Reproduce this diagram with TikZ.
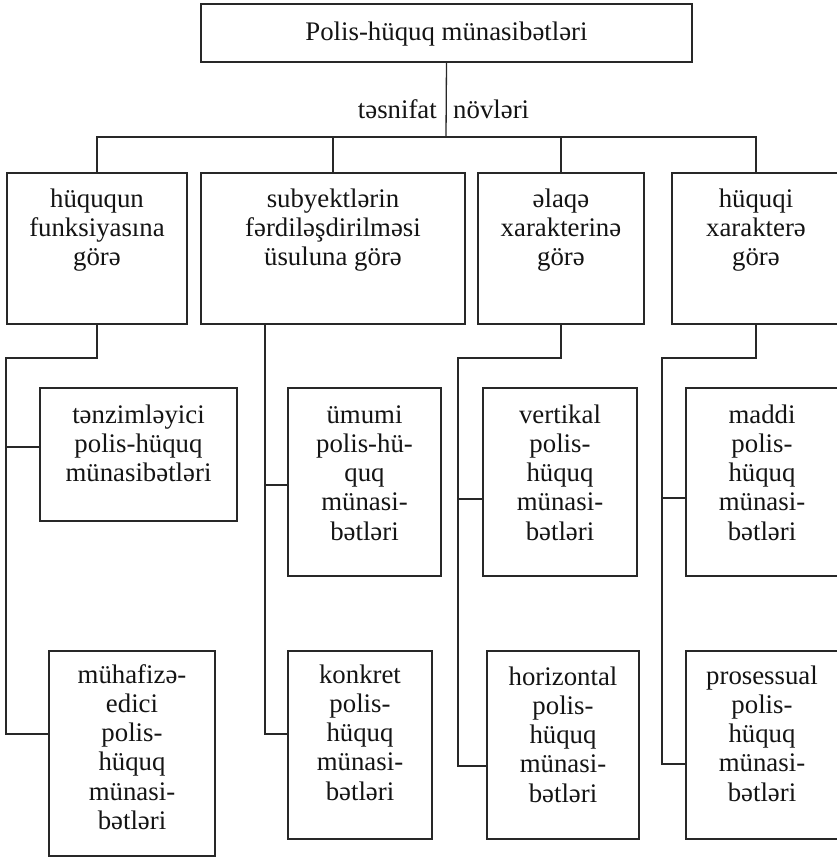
\documentclass[tikz,border=0pt]{standalone}
\usepackage{fontspec}
\setmainfont{Liberation Serif}
\definecolor{ln}{RGB}{40,40,40}
\definecolor{tx}{RGB}{20,20,20}
\newcommand{\bxt}[4]{\parbox[t][#2pt][t]{#1pt}{\centering\rule{0pt}{#3pt}#4}}
\begin{document}
\begin{tikzpicture}[x=1pt,y=-1pt,
  box/.style={draw=ln, line width=1.3pt, inner sep=0pt, outer sep=0pt, anchor=north west, text=tx,
    font=\fontsize{26.8pt}{29.3pt}\selectfont},
  lab/.style={inner sep=0pt, text=tx, font=\fontsize{26.8pt}{29.3pt}\selectfont},
  con/.style={draw=ln, line width=1.3pt}]
\useasboundingbox (0,0) rectangle (837,857);
\fill[white] (0,0) rectangle (837,857);
% top
\node[box] (top) at (201,4) {\bxt{491}{58}{36}{Polis-hüquq münasibətləri}};
% categories
\node[box] (c1) at (7,173) {\bxt{180}{151}{34}{hüququn\\funksiyasına\\görə}};
\node[box] (c2) at (201,173) {\bxt{264}{151}{34}{subyektlərin\\fərdiləşdirilməsi\\üsuluna görə}};
\node[box] (c3) at (478,173) {\bxt{166}{151}{34}{əlaqə\\xarakterinə\\görə}};
\node[box] (c4) at (672,173) {\bxt{168}{151}{34}{hüquqi\\xarakterə\\görə}\hspace*{30pt}};
% sub-boxes
\node[box] (r1a) at (40,388) {\bxt{197}{133}{35}{tənzimləyici\\polis-hüquq\\münasibətləri}};
\node[box] (r1b) at (49,651) {\bxt{166}{205}{32}{mühafizə-\\edici\\polis-\\hüquq\\münasi-\\bətləri}};
\node[box] (r2a) at (288,388) {\bxt{153}{188}{35}{ümumi\\polis-hü-\\quq\\münasi-\\bətləri}};
\node[box] (r2b) at (288,651) {\bxt{144}{188}{32}{konkret\\polis-\\hüquq\\münasi-\\bətləri}};
\node[box] (r3a) at (483,388) {\bxt{154}{188}{35}{vertikal\\polis-\\hüquq\\münasi-\\bətləri}};
\node[box] (r3b) at (487,651) {\bxt{152}{188}{34}{horizontal\\polis-\\hüquq\\münasi-\\bətləri}};
\node[box] (r4a) at (686,388) {\bxt{152}{188}{35}{maddi\\polis-\\hüquq\\münasi-\\bətləri}\hspace*{30pt}};
\node[box] (r4b) at (686,651) {\bxt{152}{188}{33}{prosessual\\polis-\\hüquq\\münasi-\\bətləri}\hspace*{30pt}};
% labels
\node[lab, anchor=base east] (ts) at (437,118) {təsnifat};
\node[lab, anchor=base west] (nv) at (453,118) {növləri};
% top connectors
\coordinate (bar) at (446,137);
\coordinate (d4) at (756,173);
\coordinate (u4) at (756,324);
\draw[con] (top.south) -- (bar);
\draw[con] (c1.north) |- (bar) -| (d4);
\draw[con] (c2.north) -- (c2.north |- bar);
\draw[con] (c3.north) -- (c3.north |- bar);
% column 1
\coordinate (k1) at (6,358);
\coordinate (j1a) at (6,447);
\coordinate (j1b) at (6,734);
\draw[con] (c1.south) |- (k1) -- (j1b) -- (j1b -| r1b.west);
\draw[con] (j1a) -- (j1a -| r1a.west);
% column 2
\coordinate (k2) at (265,324);
\coordinate (j2a) at (265,485);
\coordinate (j2b) at (265,734);
\draw[con] (k2) -- (j2b) -- (j2b -| r2b.west);
\draw[con] (j2a) -- (j2a -| r2a.west);
% column 3
\coordinate (k3) at (458,358);
\coordinate (j3a) at (458,499);
\coordinate (j3b) at (458,766);
\draw[con] (c3.south) |- (k3) -- (j3b) -- (j3b -| r3b.west);
\draw[con] (j3a) -- (j3a -| r3a.west);
% column 4
\coordinate (k4) at (662,358);
\coordinate (j4a) at (662,498);
\coordinate (j4b) at (662,764);
\draw[con] (u4) |- (k4) -- (j4b) -- (j4b -| r4b.west);
\draw[con] (j4a) -- (j4a -| r4a.west);
\end{tikzpicture}
\end{document}
